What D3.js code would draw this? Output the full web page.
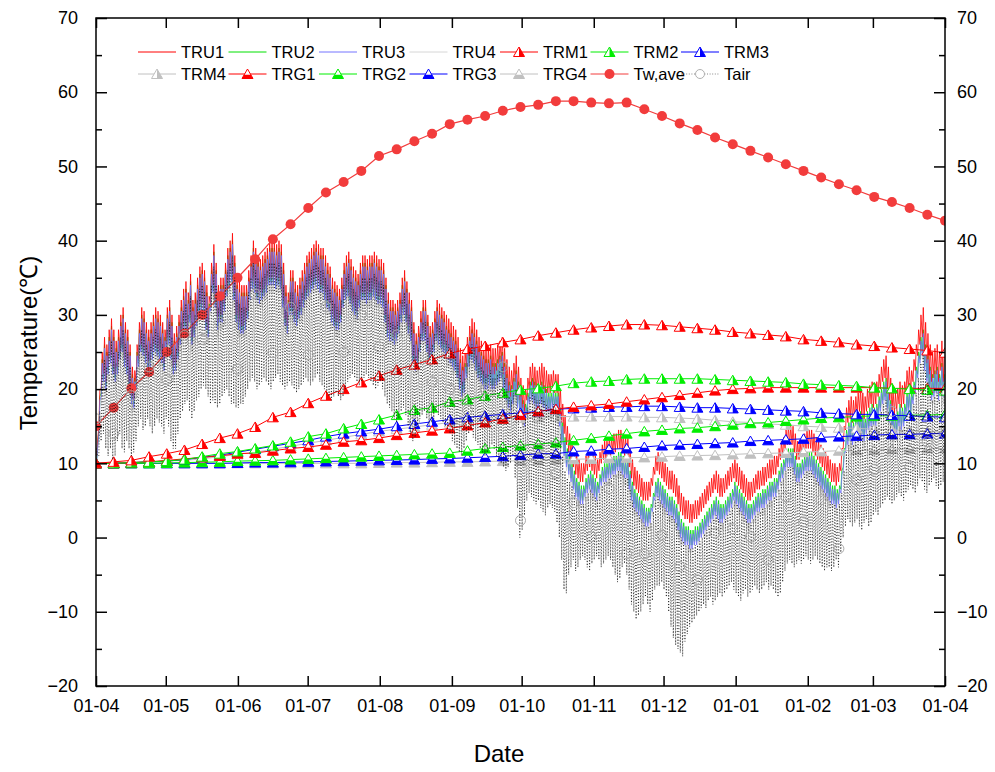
<!DOCTYPE html>
<html lang="en">
<head>
<meta charset="utf-8">
<title>Temperature over the year</title>
<script src="https://cdn.jsdelivr.net/npm/d3@7"></script>
<style>
  body { margin: 0; background: #fff; }
  svg text { font-family: "Liberation Sans", Arial, sans-serif; fill: #000; }
</style>
</head>
<body>
<div id="chart"></div>
<script>
// ---- data (daily max / min, one value per day from 01-04) ----
const tru1Max = [13,20,25,27,26,28,29.5,28,26.5,28,
  30,31,29,28,26,23,22.5,26,29,31, 30.5,29,28,29,30,31,30.5,30,29,28,
  31,32,30,27.5,28.5,30,32,33.5,34.5,33, 35.5,32,33,35,36.5,37,36,34,32.5,37,
  39.5,37,34,35,35,37,39,40,41,38, 35,34.5,34,34,34,36,38,40,39,38,
  37.5,38,38.5,39,40,40,40,39.5,40,39.5, 37,34,33,36,36,34.5,34,35,36,37,
  38,38.5,39,39.5,40,39.5,39,39,38,37, 36.5,35,34.5,34,33.5,35,37,38,38.5,37.5,
  36.5,36,35.5,37,38,38,37.5,38,38,38.5, 38,37.5,37.5,37,35,33,32,32,31.5,32,
  33,35,36,34.5,33,32,29,27.5,28.5,30.5, 32,32,30,28.5,29,30.5,32,31.5,31,30.5,
  30,29.5,29,28.5,28,27,25.5,24.5,25,27, 28.5,29.5,29,28,27,26.5,26,25.5,25.5,26,
  25.5,25.5,26,26.5,27,25.5,24,23,22.5,23.5, 24.5,23,21.5,20.5,20,21.5,23,23.5,23,22.5,
  23,23.5,23,22.5,22,22,22.5,22,22,20, 18,16.5,15,14,13,12,11,10.5,10,10,
  11,11.5,12,11.5,11,10.5,11.5,12.5,13,13, 13.5,13.5,14,14,14.5,14.5,14,13.5,13.5,12,
  10.5,9.5,9,8.5,8,7.5,7.5,7.5,8,9.5, 11,11.5,11,10.5,10,9.5,9,9,8.5,8,
  7,6,5.5,5,5,4.5,4.5,5,5,5.5, 6,6.5,7,7.5,8,8.5,9,8.5,8,8,
  8.5,9,9.5,10,10.5,10,9.5,9,8.5,8, 7.5,7.5,8,8.5,9,9,9.5,9.5,10,10.5,
  10.5,11,11,12,13,13.5,14.5,15,15,15, 14,13,13,13.5,14,14.5,14.5,14.5,14,13.5,
  13,12.5,12,11.5,11,10.5,10,10,9.5,10, 12,15,17.5,18.5,19,18.5,19,19.5,20,19.5,
  19,20,20.5,21,20.5,21,22,23,24,24.5, 23,21.5,20,19.5,20,21,20.5,21,22.5,23,
  22.5,24,26,28,30,31,29,27.5,26,25, 25.5,26,25,26.5,25]
const tru1Min = [11,15,20,22,21,23,24.5,23,22,23,
  25,26,24,23,21,19,18.5,21,24,26, 25.5,24.5,23.5,24,25,26,25.5,25,24.5,23.5,
  26,27,25,23,23.5,25,27,28,29,28, 30,27,28,29.5,31,31.5,31,29,28,31.5,
  34,32,29,30,30,31.5,33.5,34.5,35.5,33, 30,29,28.5,28.5,29,30.5,33,34.5,34,33,
  32.5,33,33.5,34,35,35,35,34.5,35,34.5, 32,29.5,28.5,31,31,30,29.5,30.5,31,32,
  33,33.5,34,34.5,35,34.5,34,34,33,32, 31.5,30,29.5,29,29,30,32,33,33.5,32.5,
  31.5,31,30.5,32,33,33,32.5,33,33,33.5, 33,32.5,32.5,32,30,28,27.5,27.5,27,27.5,
  28.5,30,31,30,28.5,27.5,24.5,23.5,24,26, 27.5,27.5,26,24.5,25,26,27.5,27,26.5,26,
  26,25.5,25,24.5,24,23,21.5,20.5,21,23, 24.5,25.5,25,24,23,22.5,22,21.5,21.5,22,
  22,22,22.5,23,23.5,22,20.5,19.5,19,20, 21,19.5,18.5,17.5,17,18.5,20,20.5,20,19.5,
  20,20.5,20,19.5,19.5,19.5,20,19.5,19.5,17.5, 15.5,14,12.5,11.5,10.5,9.5,8.5,8,7.5,7.5,
  8.5,9,9.5,9,8.5,8,9,10,10.5,10.5, 11,11,11.5,11.5,12,12,11.5,11,11,9.5,
  8,7,6.5,6,5.5,5,5,5,5.5,7, 8.5,9,8.5,8,7.5,7,6.5,6.5,6,5.5,
  4.5,3.5,3,2.5,2.5,2,2,2.5,2.5,3, 3.5,4,4.5,5,5.5,6,6.5,6,5.5,5.5,
  6,6.5,7,7.5,8,7.5,7,6.5,6,5.5, 5,5,5.5,6,6.5,6.5,7,7,7.5,8,
  8,8.5,8.5,9.5,10.5,11,12,12.5,12.5,12.5, 11.5,10.5,10.5,11,11.5,12,12,12,11.5,11,
  10.5,10,9.5,9,8.5,8,7.5,7.5,7,7.5, 9,12,14.5,15.5,16,15.5,16,16.5,17,16.5,
  16,17,17.5,18,17.5,18,19,20,21,21.5, 20,18.5,17,16.5,17,18,17.5,18,19.5,20,
  19.5,21,22.5,24.5,26,27,25,23.5,22,21, 21.5,22,21,22.5,21]
const tru2Max = [12.5,19,24,26,25,27,28.5,27,25.5,27,
  29,30,28,27,25,22,21.5,25,28,30, 29.5,28,27,28,29,30,29.5,29,28,27,
  30,31,29,26.5,27.5,29,31,32.5,33.5,32, 34.5,31,32,34,35.5,36,35,33,31.5,36,
  38.5,36,33,34,34,36,38,39,40,37, 34,33.5,33,33,33,35,37,39,38,37,
  36.5,37,37.5,38,39,39,39,38.5,39,38.5, 36,33,32,35,35,33.5,33,34,35,36,
  37,37.5,38,38.5,39,38.5,38,38,37,36, 35.5,34,33.5,33,32.5,34,36,37,37.5,36.5,
  35.5,35,34.5,36,37,37,36.5,37,37,37.5, 37,36.5,36.5,36,34,32,31,31,30.5,31,
  32,34,35,33.5,32,31,28,26.5,27.5,29.5, 31,31,29,27.5,28,29.5,31,30.5,30,29.5,
  28.5,28,27.5,27,26.5,25.5,24,23,23.5,25.5, 27,28,27.5,26.5,25.5,25,24.5,24,24,24.5,
  23.5,23.5,24,24.5,25,23.5,22,21,20.5,21.5, 22.5,21,19.5,18.5,18,19.5,21,21.5,21,20.5,
  20.5,21,20.5,20,19.5,19.5,20,19.5,19.5,17.5, 15.5,13.5,12,11,10,9,8,7.5,7,7,
  8,8.5,9,8.5,8,7.5,8.5,9.5,10,10, 10.5,10.5,11,11,11.5,11.5,11,10.5,10.5,9,
  7.5,6.5,6,5.5,5,4.5,4,4,4.5,6, 7.5,8,7.5,7,6.5,6,5.5,5.5,5,4.5,
  3.5,2.5,2,1.5,1.5,1,1,1.5,1.5,2, 2.5,3,3.5,4,4.5,5,5.5,5,4.5,4.5,
  5,5.5,6,6.5,7.5,7,6.5,6,5.5,5, 4.5,4.5,5,5.5,6,6,6.5,6.5,7,7.5,
  7.5,8,8,9,10,10.5,11.5,12,12,12, 11,10,10,10.5,11,11.5,11.5,11.5,11,10.5,
  10,9.5,9,8.5,8,7.5,7,7,6.5,7, 9,12,14.5,15.5,16,15.5,16,16.5,17,16.5,
  16,17,17.5,18,17.5,18,19,20,21,21.5, 20,18.5,17,16.5,17,18,17.5,18,19.5,20,
  19.5,21,23,25,27,28,26,24.5,23,22, 22.5,23,22,23.5,22]
const tru2Min = [10.5,14.5,19.5,21.5,20.5,22.5,24,22.5,21.5,22.5,
  24.5,25.5,23.5,22.5,20.5,18.5,18,20.5,23.5,25.5, 25,24,23,23.5,24.5,25.5,25,24.5,24,23,
  25.5,26.5,24.5,22.5,23,24.5,26.5,27.5,28.5,27.5, 29.5,26.5,27.5,29,30.5,31,30.5,28.5,27.5,31,
  33.5,31.5,28.5,29.5,29.5,31,33,34,35,32.5, 29.5,28.5,28,28,28.5,30,32.5,34,33.5,32.5,
  32,32.5,33,33.5,34.5,34.5,34.5,34,34.5,34, 31.5,29,28,30.5,30.5,29.5,29,30,30.5,31.5,
  32.5,33,33.5,34,34.5,34,33.5,33.5,32.5,31.5, 31,29.5,29,28.5,28.5,29.5,31.5,32.5,33,32,
  31,30.5,30,31.5,32.5,32.5,32,32.5,32.5,33, 32.5,32,32,31.5,29.5,27.5,27,27,26.5,27,
  28,29.5,30.5,29.5,28,27,24,23,23.5,25.5, 27,27,25.5,24,24.5,25.5,27,26.5,26,25.5,
  25,24.5,24,23.5,23,22,20.5,19.5,20,22, 23.5,24.5,24,23,22,21.5,21,20.5,20.5,21,
  20.5,20.5,21,21.5,22,20.5,19,18,17.5,18.5, 19.5,18,17,16,15.5,17,18.5,19,18.5,18,
  18,18.5,18,17.5,17.5,17.5,18,17.5,17.5,15.5, 13,11.5,10,9,8,7,6,5.5,5,5,
  6,6.5,7,6.5,6,5.5,6.5,7.5,8,8, 8.5,8.5,9,9,9.5,9.5,9,8.5,8.5,7,
  5.5,4.5,4,3.5,3,2.5,2,2,2.5,4, 5.5,6,5.5,5,4.5,4,3.5,3.5,3,2.5,
  1.5,0.5,0,-0.5,-0.5,-1,-1,-0.5,-0.5,0, 0.5,1,1.5,2,2.5,3,3.5,3,2.5,2.5,
  3,3.5,4,4.5,5.5,5,4.5,4,3.5,3, 2.5,2.5,3,3.5,4,4,4.5,4.5,5,5.5,
  5.5,6,6,7,8,8.5,9.5,10,10,10, 9,8,8,8.5,9,9.5,9.5,9.5,9,8.5,
  8,7.5,7,6.5,6,5.5,5,5,4.5,5, 6.5,9.5,12,13,13.5,13,13.5,14,14.5,14,
  13.5,14.5,15,15.5,15,15.5,16.5,17.5,18.5,19, 17.5,16,14.5,14,14.5,15.5,15,15.5,17,17.5,
  17,18.5,20,22,24,25,23,21.5,20,19, 19.5,20,19,20.5,19.5]
const tru3Max = [12,18.5,23.5,25.5,24.5,26.5,28,26.5,25,26.5,
  28.5,29.5,27.5,26.5,24.5,21.5,21,24.5,27.5,29.5, 29,27.5,26.5,27.5,28.5,29.5,29,28.5,27.5,26.5,
  29.5,30.5,28.5,26,27,28.5,30.5,32,33,31.5, 34,30.5,31.5,33.5,35,35.5,34.5,32.5,31,35.5,
  38,35.5,32.5,33.5,33.5,35.5,37.5,38.5,39.5,36.5, 33.5,33,32.5,32.5,32.5,34.5,36.5,38.5,37.5,36.5,
  36,36.5,37,37.5,38.5,38.5,38.5,38,38.5,38, 35.5,32.5,31.5,34.5,34.5,33,32.5,33.5,34.5,35.5,
  36.5,37,37.5,38,38.5,38,37.5,37.5,36.5,35.5, 35,33.5,33,32.5,32,33.5,35.5,36.5,37,36,
  35,34.5,34,35.5,36.5,36.5,36,36.5,36.5,37, 36.5,36,36,35.5,33.5,31.5,30.5,30.5,30,30.5,
  31.5,33.5,34.5,33,31.5,30.5,27.5,26,27,29, 30.5,30.5,28.5,27,27.5,29,30.5,30,29.5,29,
  28,27.5,27,26.5,26,25,23.5,22.5,23,25, 26.5,27.5,27,26,25,24.5,24,23.5,23.5,24,
  23,23,23.5,24,24.5,23,21.5,20.5,20,21, 22,20.5,19,18,17.5,19,20.5,21,20.5,20,
  20,20.5,20,19.5,19,19,19.5,19,19,17, 15,13,11.5,10.5,9.5,8.5,7.5,7,6.5,6.5,
  7.5,8,8.5,8,7.5,7,8,9,9.5,9.5, 10,10,10.5,10.5,11,11,10.5,10,10,8.5,
  7,6,5.5,5,4.5,4,3.5,3.5,4,5.5, 7,7.5,7,6.5,6,5.5,5,5,4.5,4,
  3,2,1.5,1,1,0.5,0.5,1,1,1.5, 2,2.5,3,3.5,4,4.5,5,4.5,4,4,
  4.5,5,5.5,6,7,6.5,6,5.5,5,4.5, 4,4,4.5,5,5.5,5.5,6,6,6.5,7,
  7,7.5,7.5,8.5,9.5,10,11,11.5,11.5,11.5, 10.5,9.5,9.5,10,10.5,11,11,11,10.5,10,
  9.5,9,8.5,8,7.5,7,6.5,6.5,6,6.5, 8.5,11.5,14,15,15.5,15,15.5,16,16.5,16,
  15.5,16.5,17,17.5,17,17.5,18.5,19.5,20.5,21, 19.5,18,16.5,16,16.5,17.5,17,17.5,19,19.5,
  19,20.5,22.5,24.5,26.5,27.5,25.5,24,22.5,21.5, 22,22.5,21.5,23,21.5]
const tru3Min = [10,14,19,21,20,22,23.5,22,21,22,
  24,25,23,22,20,18,17.5,20,23,25, 24.5,23.5,22.5,23,24,25,24.5,24,23.5,22.5,
  25,26,24,22,22.5,24,26,27,28,27, 29,26,27,28.5,30,30.5,30,28,27,30.5,
  33,31,28,29,29,30.5,32.5,33.5,34.5,32, 29,28,27.5,27.5,28,29.5,32,33.5,33,32,
  31.5,32,32.5,33,34,34,34,33.5,34,33.5, 31,28.5,27.5,30,30,29,28.5,29.5,30,31,
  32,32.5,33,33.5,34,33.5,33,33,32,31, 30.5,29,28.5,28,28,29,31,32,32.5,31.5,
  30.5,30,29.5,31,32,32,31.5,32,32,32.5, 32,31.5,31.5,31,29,27,26.5,26.5,26,26.5,
  27.5,29,30,29,27.5,26.5,23.5,22.5,23,25, 26.5,26.5,25,23.5,24,25,26.5,26,25.5,25,
  24.5,24,23.5,23,22.5,21.5,20,19,19.5,21.5, 23,24,23.5,22.5,21.5,21,20.5,20,20,20.5,
  20,20,20.5,21,21.5,20,18.5,17.5,17,18, 19,17.5,16.5,15.5,15,16.5,18,18.5,18,17.5,
  17.5,18,17.5,17,17,17,17.5,17,17,15, 12.5,11,9.5,8.5,7.5,6.5,5.5,5,4.5,4.5,
  5.5,6,6.5,6,5.5,5,6,7,7.5,7.5, 8,8,8.5,8.5,9,9,8.5,8,8,6.5,
  5,4,3.5,3,2.5,2,1.5,1.5,2,3.5, 5,5.5,5,4.5,4,3.5,3,3,2.5,2,
  1,0,-0.5,-1,-1,-1.5,-1.5,-1,-1,-0.5, 0,0.5,1,1.5,2,2.5,3,2.5,2,2,
  2.5,3,3.5,4,5,4.5,4,3.5,3,2.5, 2,2,2.5,3,3.5,3.5,4,4,4.5,5,
  5,5.5,5.5,6.5,7.5,8,9,9.5,9.5,9.5, 8.5,7.5,7.5,8,8.5,9,9,9,8.5,8,
  7.5,7,6.5,6,5.5,5,4.5,4.5,4,4.5, 6,9,11.5,12.5,13,12.5,13,13.5,14,13.5,
  13,14,14.5,15,14.5,15,16,17,18,18.5, 17,15.5,14,13.5,14,15,14.5,15,16.5,17,
  16.5,18,19.5,21.5,23.5,24.5,22.5,21,19.5,18.5, 19,19.5,18.5,20,19]
const tru4Max = [12,18,23,25,24,26,27,26,25,26,
  28,29,27,26,24,21,20,24,27,29, 28,27,26,27,28,29,28,28,27,26,
  29,30,28,25,26,28,30,31,32,31, 33,30,31,33,34,35,34,32,30,35,
  37,35,32,33,33,35,37,38,39,36, 33,32,32,32,32,34,36,38,37,36,
  35,36,36,37,38,38,38,37,38,37, 35,32,31,34,34,32,32,33,34,35,
  36,36,37,37,38,37,37,37,36,35, 34,33,32,32,31,33,35,36,36,35,
  34,34,33,35,36,36,35,36,36,36, 36,35,35,35,33,31,30,30,29,30,
  31,33,34,32,31,30,27,25,26,28, 30,30,28,26,27,28,30,29,29,28,
  27,27,26,26,25,24,23,22,22,24, 26,27,26,25,24,24,23,23,23,23,
  22,22,23,23,24,22,21,20,19,20, 21,20,18,17,17,18,20,20,20,19,
  19,20,19,19,18,18,19,18,18,16, 14,12,11,10,9,8,7,6,6,6,
  7,7,8,7,7,6,7,8,9,9, 9,9,10,10,10,10,10,9,9,8,
  6,5,5,4,4,3,3,3,3,5, 6,7,6,6,5,5,4,4,4,3,
  2,1,1,0,0,0,0,0,0,1, 1,2,2,3,3,4,4,4,3,3,
  4,4,5,5,6,6,5,5,4,4, 3,3,4,4,5,5,5,5,6,6,
  6,7,7,8,9,9,10,11,11,11, 10,9,9,9,10,10,10,10,10,9,
  9,8,8,7,7,6,6,6,5,6, 8,11,13,14,15,14,15,15,16,15,
  15,16,16,17,16,17,18,19,20,20, 19,17,16,15,16,17,16,17,18,19,
  18,20,22,24,26,27,25,23,22,21, 21,22,21,22,21]
const tru4Min = [9,13,18,20,19,21,23,21,20,21,
  23,24,22,21,19,17,17,19,22,24, 24,23,22,22,23,24,24,23,23,22,
  24,25,23,21,22,23,25,26,27,26, 28,25,26,28,29,30,29,27,26,30,
  32,30,27,28,28,30,32,33,34,31, 28,27,27,27,27,29,31,33,32,31,
  31,31,32,32,33,33,33,33,33,33, 30,28,27,29,29,28,28,29,29,30,
  31,32,32,33,33,33,32,32,31,30, 30,28,28,27,27,28,30,31,32,31,
  30,29,29,30,31,31,31,31,31,32, 31,31,31,30,28,26,26,26,25,26,
  27,28,29,28,27,26,23,22,22,24, 26,26,24,23,23,24,26,25,25,24,
  24,23,23,22,22,21,19,18,19,21, 22,23,23,22,21,20,20,19,19,20,
  19,19,20,20,21,19,18,17,16,17, 18,17,16,15,14,16,17,18,17,17,
  17,17,17,16,16,16,17,16,16,14, 12,10,9,8,7,6,5,4,4,4,
  5,5,6,5,5,4,5,6,7,7, 7,7,8,8,8,8,8,7,7,6,
  4,3,3,2,2,1,1,1,1,3, 4,5,4,4,3,3,2,2,2,1,
  0,-1,-1,-1,-1,-2,-2,-1,-1,-1, 0,0,0,1,1,2,2,2,1,1,
  2,2,3,3,4,4,3,3,2,2, 1,1,2,2,3,3,3,3,4,4,
  4,5,5,6,7,7,8,9,9,9, 8,7,7,7,8,8,8,8,8,7,
  7,6,6,5,5,4,4,4,3,4, 5,8,11,12,12,12,12,13,13,13,
  12,13,14,14,14,14,15,16,17,18, 16,15,13,13,13,14,14,14,16,16,
  16,17,19,21,23,24,22,20,19,18, 18,19,18,19,18]
const tairMax = [11,17,22,24,23,25,26.5,25,23.5,25,
  27,28,26,25,23,20,19.5,23,26,28, 27.5,26,25,26,27,28,27.5,27,26,25,
  28,29,27,24.5,25.5,27,29,30.5,31.5,30, 32.5,29,30,32,33.5,34,33,31,29.5,34,
  36.5,34,31,32,32,34,36,37,38,35, 32,31.5,31,31,31,33,35,37,36,35,
  34.5,35,35.5,36,37,37,37,36.5,37,36.5, 34,31,30,33,33,31.5,31,32,33,34,
  35,35.5,36,36.5,37,36.5,36,36,35,34, 33.5,32,31.5,31,30.5,32,34,35,35.5,34.5,
  33.5,33,32.5,34,35,35,34.5,35,35,35.5, 35,34.5,34.5,34,32,30,29,29,28.5,29,
  30,32,33,31.5,30,29,26,24.5,25.5,27.5, 29,29,27,25.5,26,27.5,29,28.5,28,27.5,
  26.5,26,25.5,25,24.5,23.5,22,21,21.5,23.5, 25,26,25.5,24.5,23.5,23,22.5,22,22,22.5,
  21.5,21.5,22,22.5,23,21.5,20,19,18.5,19.5, 20,17,15,15.5,16,17.5,19,19.5,19,18.5,
  18.5,19,18.5,18,17.5,17.5,18,17.5,17,14, 11,9,8,7.5,7,6,5,5,4.5,4.5,
  5.5,6,6.5,6,5.5,5,6,7,7.5,7.5, 8,8,8.5,8.5,9,9,8.5,8,8,6.5,
  5,4,3.5,3,2.5,2,1.5,1.5,2,3.5, 5,5.5,5,4.5,4,3.5,3,3,2.5,2,
  1,0,-0.5,-1,-1,-1.5,-1.5,-1,-1,-0.5, 0,0.5,1,1.5,2,2.5,3,2.5,2,2,
  2.5,3,3.5,4,5,4.5,4,3.5,3,2.5, 2,2,2.5,3,3.5,3.5,4,4,4.5,5,
  5,5.5,5.5,6.5,7.5,8,9,9.5,9.5,9.5, 8.5,7.5,7.5,8,8.5,9,9,9,8.5,8,
  7.5,7,6.5,6,5.5,5,4.5,4.5,4,4.5, 6,9,11.5,12.5,13,12.5,13,13.5,14,13.5,
  13,14,14.5,15,14.5,15,16,17,18,18.5, 17,15.5,14,13.5,14,15,14.5,15,16.5,17,
  16.5,18,19.5,21.5,23.5,24.5,22.5,21,19.5,18.5, 19,19.5,18.5,20,19]
const tairMin = [12,11,13,14,12,11,12,10.5,11,13,
  14,12,11.5,13,12,11,11.5,13,15,16, 14.5,15,16,15,14,15,16,15.5,15,14,
  16,15,13,12,12,14,16,17,18,18.5, 17,16,17,18.5,19,20,20.5,20,19,18,
  18.5,18,17.5,18,19,19.5,20,19,18,18, 17.5,17.5,18,18,19,20,21,21.5,21,20,
  20.5,21,21.5,21,20.5,20,21,21.5,22,21, 20.5,20,20.5,21,20.5,20,19.5,20,20.5,21,
  21.5,21,20.5,21,21.5,22,21,20.5,20,19.5, 19,18.5,19,19.5,19,18.5,19,20,21,21.5,
  22,21.5,21,20.5,21,21.5,22,21.5,21,20.5, 20,20.5,21,20,19,18,17.5,17,16,15.5,
  16,17,17.5,16.5,15,14,13,13.5,15,16, 16.5,17,16,15,15.5,16,17,16.5,16,15.5,
  15,14.5,14,13,12.5,12,11.5,11,12,13, 14,14.5,13.5,13,12.5,12,11.5,11,11.5,12,
  12.5,12,11,10.5,10,9.5,9,9.5,10,11, 8,4,0,1,3,5,6,5.5,5,4.5,
  5,4,3.5,3,4,4.5,4,3.5,2,0, -3,-7,-7.5,-5,-4,-3,-4.5,-4,-3,-2.5,
  -3,-4,-4.5,-3.5,-3,-2.5,-3,-4,-3.5,-3, -2.5,-3,-4,-5,-6,-5.5,-4,-3.5,-5,-7,
  -9,-10,-11,-10.5,-10,-9,-8,-9,-10,-8.5, -7,-6.5,-6.5,-6,-7,-8,-10,-12,-13.5,-14.5,
  -15,-15.5,-16,-14,-13,-12,-11.5,-11,-10.5,-10, -9.5,-9,-9.5,-8.5,-8,-9,-8.5,-8,-7.5,-8,
  -7.5,-7,-6.5,-6,-7,-7.5,-8,-8.5,-7.5,-7, -8,-7.5,-7,-6.5,-7,-7.5,-7,-6.5,-6,-7,
  -6.5,-7,-7.5,-8,-7.5,-6,-4.5,-3.5,-3,-3.5, -4,-3.5,-3,-3.5,-3,-2.5,-3,-3.5,-3,-2.5,
  -3,-3.5,-4,-4.5,-4,-4,-4.5,-4,-3,-4, -2,0,1.5,2.5,2,1.5,2,2.5,1.5,1,
  2,2.5,1.5,2,3,3.5,3,4,4.5,5, 5.5,5,4.5,5,5.5,6,5.5,5,6,6.5,
  7,6.5,6,7,8,7.5,6.5,6,7,7.5, 8,7,6.5,7,7.5]

// ---- weekly marker series (49 samples from 01-04 to 01-04) ----
const twAve = [15.0,17.5,20.1,22.3,25.0,27.5,30.0,32.5,35.0,37.5,40.2,42.2,44.4,46.5,47.9,49.4,51.4,
  52.3,53.4,54.4,55.7,56.3,56.8,57.5,58.0,58.3,58.8,58.8,58.6,58.5,58.6,57.7,56.8,55.8,54.9,53.9,
  53.0,52.1,51.2,50.3,49.4,48.5,47.6,46.8,45.9,45.2,44.4,43.5,42.7]
const trm1 = [10.0,10.2,10.4,10.9,11.3,11.8,12.6,13.4,14.0,14.9,16.2,16.9,18.1,19.1,20.0,20.9,21.8,
  22.6,23.3,24.0,24.8,25.4,25.8,26.3,26.7,27.2,27.6,28.0,28.3,28.5,28.7,28.7,28.6,28.4,28.2,28.0,
  27.7,27.5,27.3,27.1,26.7,26.5,26.3,26.0,25.8,25.6,25.4,25.2,24.9]
const trm2 = [10.0,10.0,10.1,10.2,10.3,10.5,10.9,11.3,11.6,12.0,12.4,12.9,13.6,14.0,14.7,15.3,15.9,
  16.5,17.2,17.5,18.3,18.6,19.1,19.5,19.9,20.1,20.4,20.8,21.0,21.1,21.3,21.4,21.4,21.4,21.4,21.3,
  21.2,21.1,21.0,20.9,20.7,20.6,20.5,20.4,20.2,20.1,20.0,19.9,19.8]
const trm3 = [10.0,10.0,10.1,10.2,10.3,10.5,10.8,11.1,11.5,11.9,12.3,12.7,13.1,13.6,14.0,14.3,14.6,
  15.0,15.3,15.6,15.9,16.2,16.4,16.6,16.8,17.0,17.3,17.4,17.5,17.6,17.6,17.7,17.7,17.6,17.5,17.5,
  17.4,17.3,17.2,17.1,17.0,16.8,16.7,16.6,16.6,16.5,16.4,16.3,16.2]
const trm4 = [10.0,10.0,10.1,10.2,10.3,10.4,10.6,10.9,11.2,11.5,11.9,12.3,12.7,13.1,13.5,13.9,14.3,
  14.6,14.9,15.2,15.5,15.7,15.9,16.0,16.1,16.2,16.3,16.3,16.3,16.3,16.3,16.2,16.2,16.1,16.0,15.8,
  15.6,15.5,15.3,15.2,15.0,14.9,14.8,14.7,14.6,14.5,14.4,14.3,14.2]
const trg1 = [10.0,10.0,10.1,10.2,10.4,10.6,10.8,11.0,11.3,11.4,11.7,12.0,12.2,12.5,12.9,13.1,13.4,
  13.8,14.1,14.4,14.7,15.1,15.5,16.0,16.5,17.0,17.3,17.6,17.8,18.0,18.3,18.6,18.9,19.2,19.5,19.8,
  20.0,20.1,20.2,20.2,20.2,20.2,20.2,20.2,20.2,20.1,20.1,20.1,20.1]
const trg2 = [10.0,10.0,10.0,10.0,10.05,10.1,10.15,10.2,10.3,10.35,10.4,10.5,10.6,10.7,10.8,10.9,11.0,
  11.1,11.2,11.3,11.4,11.7,12.0,12.2,12.4,12.6,12.8,13.1,13.4,13.7,14.0,14.3,14.5,14.7,14.8,15.0,
  15.2,15.4,15.5,15.7,15.9,16.1,16.2,16.3,16.4,16.4,16.5,16.5,16.6]
const trg3 = [10.0,10.0,10.0,10.0,10.0,10.0,10.0,10.0,10.05,10.1,10.1,10.15,10.2,10.25,10.3,10.35,10.4,
  10.45,10.5,10.6,10.65,10.75,10.85,10.95,11.1,11.3,11.3,11.6,11.7,11.9,12.0,12.2,12.4,12.5,12.6,12.7,
  12.8,13.0,13.1,13.2,13.3,13.5,13.6,13.7,13.8,13.9,13.9,14.0,14.0]
const trg4 = [10.0,10.0,10.0,10.0,10.0,10.0,10.0,10.0,10.0,10.0,10.0,10.0,10.0,10.0,10.0,10.0,10.05,
  10.1,10.1,10.15,10.2,10.2,10.25,10.3,10.35,10.4,10.5,10.55,10.6,10.7,10.75,10.8,10.9,11.0,11.05,11.1,
  11.2,11.3,11.35,11.4,11.5,11.6,11.7,11.75,11.8,11.9,11.95,12.0,12.0]
const tairMarks = [16,14.0,19.1,23.0,21.3,27.2,26.7,29.0,22.7,32.8,24.9,31.0,24.6,31.1,25.0,30.0,25.7,
  27.3,15.6,21.0,20,17.2,20,23.0,2.3,12,8.6,4.7,0.1,6.6,-2.2,-2.2,0.3,-3.9,-5.7,0.6,1.2,0.1,-3.0,5.5,
  2.1,5.1,-1.5,7.8,9.2,17.0,9.5,12.9,14]

const yTicks = [-20, -10, 0, 10, 20, 30, 40, 50, 60, 70]
const yMinorTicks = [-15, -5, 5, 15, 25, 35, 45, 55, 65]
const legendRow1 = ["TRU1", "TRU2", "TRU3", "TRU4", "TRM1", "TRM2", "TRM3"]
const legendRow2 = ["TRM4", "TRG1", "TRG2", "TRG3", "TRG4", "Tw,ave", "Tair"]

const startDate = new Date(Date.UTC(2018, 3, 1))
const endDate = new Date(Date.UTC(2019, 3, 1))
const markerStep = 365 / 48   // days between marker samples

// styles
const colors = {
  TRU1: "#ff0000", TRU2: "#00e000", TRU3: "#7474ff", TRU4: "#d6d6d6",
  TRM1: "#ff0000", TRM2: "#00ee00", TRM3: "#0000ff", TRM4: "#c0c0c0",
  TRG1: "#ff0000", TRG2: "#00ee00", TRG3: "#0000ff", TRG4: "#c0c0c0",
  "Tw,ave": "#f23c3c", Tair: "#111"
}

let width = 995
let height = 772
let plotLeft = 96, plotRight = 945, plotTop = 18, plotBottom = 686

let svg = d3.select("#chart").append("svg").attr("width", width).attr("height", height)

let x = d3.scaleUtc().domain([startDate, endDate]).range([plotLeft, plotRight])
let y = d3.scaleLinear().domain([-20, 70]).range([plotBottom, plotTop])

svg.append("clipPath").attr("id", "plot-area")
  .append("rect").attr("x", plotLeft).attr("y", plotTop)
  .attr("width", plotRight - plotLeft).attr("height", plotBottom - plotTop)

let plot = svg.append("g").attr("clip-path", "url(#plot-area)")
let line = d3.line().x(d => x(d[0])).y(d => y(d[1]))

let atHour = (day, hour) => new Date(startDate.getTime() + (day * 24 + hour) * 3600000)

// daily curve: low in the early morning, high in the afternoon
function zigzag(hi, lo, hLo, hHi) {
  let pts = []
  let n = Math.min(hi.length, lo.length)
  for (let d = 0; d < n; d++) {
    pts.push([atHour(d, hLo), lo[d]])
    pts.push([atHour(d, hHi), hi[d]])
  }
  return pts
}
let weekly = vals => vals.map((v, i) => [atHour(i * markerStep, 0), v])

// hourly-style series (green under red, blue on top)
let dailySeries = [
  ["TRU4", tru4Max, tru4Min],
  ["TRU2", tru2Max, tru2Min],
  ["TRU1", tru1Max, tru1Min],
  ["TRU3", tru3Max, tru3Min]
]
dailySeries.forEach(s => {
  plot.append("path")
    .datum(zigzag(s[1], s[2], 6, 16))
    .attr("fill", "none")
    .attr("stroke", colors[s[0]])
    .attr("stroke-width", 0.8)
    .attr("d", line)
})

// half-filled triangle markers
let triOutline = "M0,-5L5.5,4.5L-5.5,4.5Z"
let triRight = "M0,-5L5.5,4.5L0,4.5Z"
let triBottom = "M-3.3,0.7L3.3,0.7L5.5,4.5L-5.5,4.5Z"

function drawTriangle(g, cx, cy, color, half) {
  let t = g.append("g").attr("transform", "translate(" + cx + "," + cy + ")")
  t.append("path").attr("d", triOutline).attr("fill", "#fff").attr("stroke", color).attr("stroke-width", 1)
  t.append("path").attr("d", half).attr("fill", color)
}

let markerSeries = [
  ["TRG4", trg4, triBottom], ["TRM4", trm4, triRight],
  ["TRG3", trg3, triBottom], ["TRG2", trg2, triBottom],
  ["TRM3", trm3, triRight], ["TRG1", trg1, triBottom],
  ["TRM2", trm2, triRight], ["TRM1", trm1, triRight]
]
markerSeries.forEach(s => {
  let pts = weekly(s[1])
  let g = plot.append("g")
  g.append("path").datum(pts)
    .attr("fill", "none").attr("stroke", colors[s[0]]).attr("stroke-width", 1)
    .attr("d", line)
  pts.forEach(p => drawTriangle(g, x(p[0]), y(p[1]), colors[s[0]], s[2]))
})

// Tw,ave
let twPts = weekly(twAve)
plot.append("path").datum(twPts)
  .attr("fill", "none").attr("stroke", colors["Tw,ave"]).attr("stroke-width", 1.2)
  .attr("d", line)
plot.selectAll(".tw").data(twPts).enter().append("circle")
  .attr("class", "tw")
  .attr("cx", d => x(d[0])).attr("cy", d => y(d[1])).attr("r", 5)
  .attr("fill", colors["Tw,ave"])

// Tair dotted line and its sample circles
plot.append("path")
  .datum(zigzag(tairMax, tairMin, 5, 15))
  .attr("fill", "none").attr("stroke", colors.Tair).attr("stroke-width", 0.8)
  .attr("stroke-dasharray", "1,1.9")
  .attr("d", line)
plot.selectAll(".tair").data(weekly(tairMarks)).enter().append("circle")
  .attr("class", "tair")
  .attr("cx", d => x(d[0])).attr("cy", d => y(d[1])).attr("r", 5)
  .attr("fill", "none").attr("stroke", "#a8a8a8").attr("stroke-width", 1)

// ---- axes ----
let monthTicks = d3.utcMonth.range(startDate, d3.utcDay.offset(endDate, 1))

function styleAxis(g, size) {
  g.select(".domain").remove()
  g.selectAll(".tick line").attr("stroke", "#000").attr("stroke-width", 1.5)
  g.selectAll("text").attr("font-size", size)
  g.attr("font-family", null).attr("font-size", null)
}

svg.append("g").attr("transform", "translate(0," + plotBottom + ")")
  .call(d3.axisBottom(x).tickValues(monthTicks).tickFormat(d3.utcFormat("%d-%m"))
    .tickSize(-10).tickSizeOuter(0).tickPadding(13))
  .call(g => styleAxis(g, 18))

svg.append("g").attr("transform", "translate(0," + plotTop + ")")
  .call(d3.axisTop(x).tickValues(monthTicks).tickFormat("").tickSize(-10).tickSizeOuter(0))
  .call(g => styleAxis(g, 18))

svg.append("g").attr("transform", "translate(" + plotLeft + ",0)")
  .call(d3.axisLeft(y).tickValues(yTicks).tickSize(-11).tickSizeOuter(0).tickPadding(18))
  .call(g => styleAxis(g, 18))
svg.append("g").attr("transform", "translate(" + plotLeft + ",0)")
  .call(d3.axisLeft(y).tickValues(yMinorTicks).tickFormat("").tickSize(-6).tickSizeOuter(0))
  .call(g => styleAxis(g, 18))

svg.append("g").attr("transform", "translate(" + plotRight + ",0)")
  .call(d3.axisRight(y).tickValues(yTicks).tickSize(-11).tickSizeOuter(0).tickPadding(12))
  .call(g => styleAxis(g, 18))
svg.append("g").attr("transform", "translate(" + plotRight + ",0)")
  .call(d3.axisRight(y).tickValues(yMinorTicks).tickFormat("").tickSize(-6).tickSizeOuter(0))
  .call(g => styleAxis(g, 18))

svg.append("rect")
  .attr("x", plotLeft).attr("y", plotTop)
  .attr("width", plotRight - plotLeft).attr("height", plotBottom - plotTop)
  .attr("fill", "none").attr("stroke", "#000").attr("stroke-width", 1.5)

svg.append("text")
  .attr("transform", "translate(37,343) rotate(-90)")
  .attr("text-anchor", "middle").attr("font-size", 24)
  .text("Temperature(℃)")

svg.append("text")
  .attr("x", 499).attr("y", 762)
  .attr("text-anchor", "middle").attr("font-size", 24)
  .text("Date")

// ---- legend ----
let legend = svg.append("g")
function legendItem(name, col, rowY) {
  let x0 = 138 + col * 90.5
  let g = legend.append("g").attr("transform", "translate(" + x0 + "," + rowY + ")")
  let c = colors[name]
  let ln = g.append("line").attr("x1", 0).attr("x2", 38).attr("y1", 0).attr("y2", 0)
    .attr("stroke", name == "Tair" ? "#888" : c).attr("stroke-width", 1)
  if (name == "Tair") ln.attr("stroke-dasharray", "1,1.6")
  if (name.startsWith("TRM")) drawTriangle(g, 19, 0, c, triRight)
  if (name.startsWith("TRG")) drawTriangle(g, 19, 0, c, triBottom)
  if (name == "Tw,ave") g.append("circle").attr("cx", 19).attr("r", 5).attr("fill", c)
  if (name == "Tair") g.append("circle").attr("cx", 19).attr("r", 4.5)
    .attr("fill", "#fff").attr("stroke", "#b0b0b0")
  g.append("text").attr("x", 43).attr("dy", "0.36em").attr("font-size", 16.5).text(name)
}
legendRow1.forEach((n, i) => legendItem(n, i, 52))
legendRow2.forEach((n, i) => legendItem(n, i, 74))
</script>
</body>
</html>
